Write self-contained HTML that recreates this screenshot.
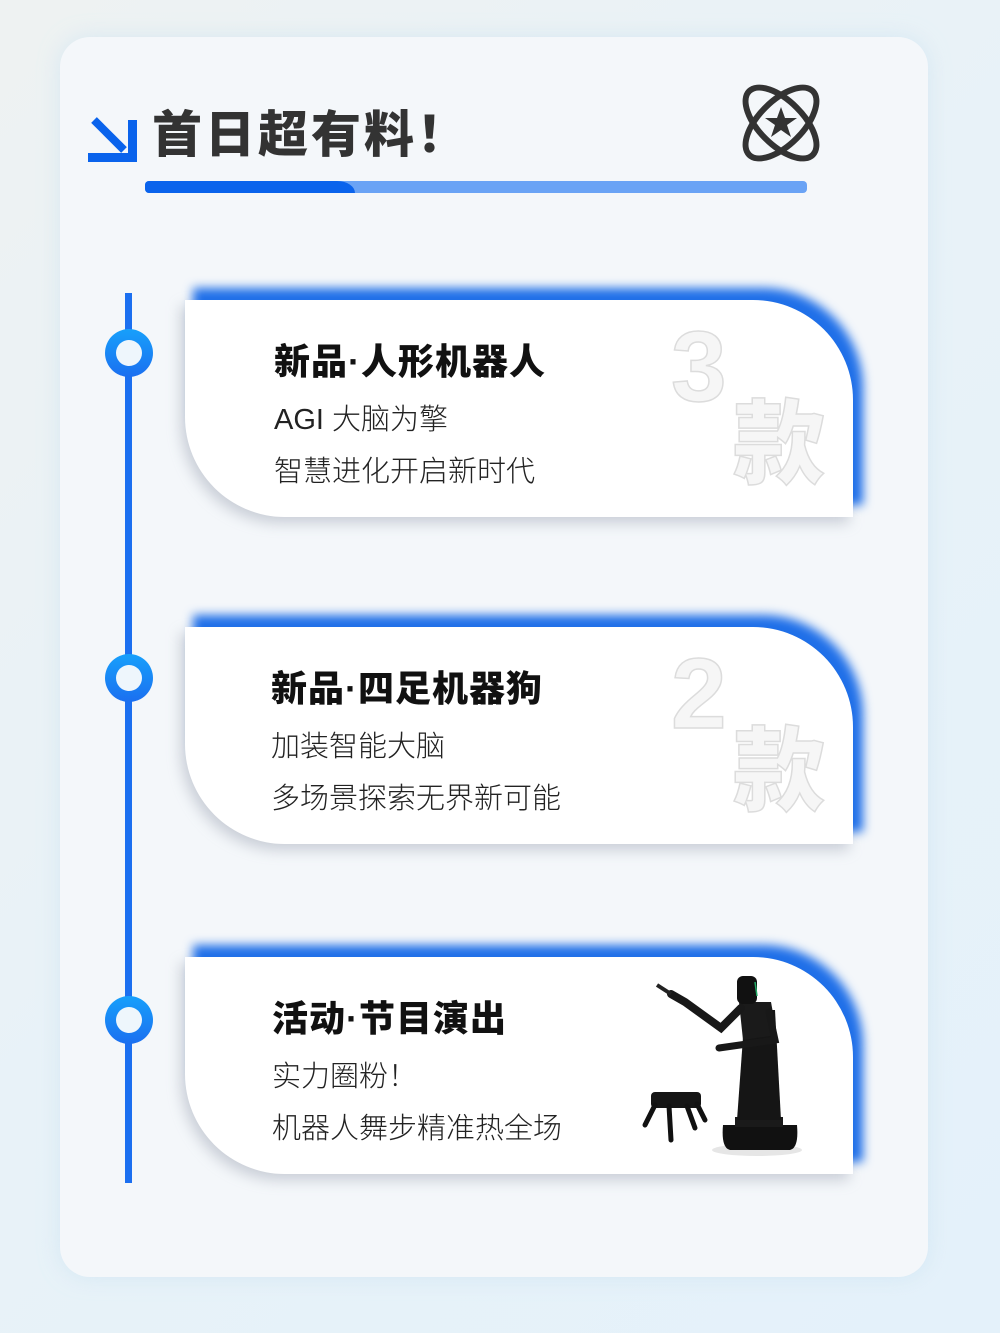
<!DOCTYPE html>
<html><head><meta charset="utf-8">
<style>
html,body{margin:0;padding:0}
body{width:1000px;height:1333px;background:linear-gradient(135deg,#eef2f2 0%,#e8f2f8 50%,#e4f1fa 100%);position:relative;overflow:hidden;font-family:"Liberation Sans","Noto Sans CJK SC",sans-serif}
.panel{position:absolute;left:60px;top:37px;width:868px;height:1240px;border-radius:30px;background:#f4f7fa;box-shadow:0 0 20px rgba(200,225,240,.6)}
.title{position:absolute;left:152px;top:100px;font-size:50px;font-weight:900;color:#333;letter-spacing:3px;line-height:70px}
.bar{position:absolute;left:145px;top:181px;width:662px;height:12px;border-radius:4px;background:#6aa3f5;overflow:hidden}
.bar i{position:absolute;left:0;top:0;width:210px;height:12px;background:#0a63ec;border-top-right-radius:18px 12px}
.line{position:absolute;left:125px;top:293px;width:7px;height:890px;background:#1b6ff0}
.dot{position:absolute;left:105px;width:48px;height:48px;border-radius:50%;background:linear-gradient(#17a0fb,#1b6ff0);}
.dot:after{content:"";position:absolute;left:11px;top:11px;width:26px;height:26px;border-radius:50%;background:#eef6fc}
.card{position:absolute;left:185px;width:668px;height:217px}
.glow{position:absolute;left:8px;top:-12px;width:670px;height:217px;background:#1f6fe8;border-radius:0 100px 0 100px;filter:blur(5px)}
.sh{position:absolute;left:-4px;top:6px;width:668px;height:217px;background:rgba(120,130,150,.35);border-radius:0 100px 0 100px;filter:blur(7px)}
.body{position:absolute;left:0;top:0;width:668px;height:217px;background:#fff;border-radius:0 100px 0 100px;overflow:hidden}
.h{position:absolute;font-size:36px;font-weight:900;color:#111;letter-spacing:1px;white-space:nowrap}
.p{position:absolute;font-size:29px;font-weight:300;color:#222;white-space:nowrap;line-height:40px}
.big{position:absolute;font-weight:900;color:#f6f6f6;-webkit-text-stroke:1.5px #dcdcdc;font-family:"Liberation Sans","Noto Sans CJK SC",sans-serif}
</style></head><body>
<div class="panel"></div>
<svg style="position:absolute;left:88px;top:116px" width="50" height="46" viewBox="0 0 50 46">
<path d="M6 4 L36 34" stroke="#0a63ec" stroke-width="8" fill="none"/>
<rect x="40" y="4" width="9" height="42" fill="#0a63ec"/>
<rect x="0" y="37" width="49" height="9" fill="#0a63ec"/>
</svg>
<div class="title">首日超有料！</div>
<svg style="position:absolute;left:736px;top:80px" width="90" height="86" viewBox="0 0 90 86">
<ellipse cx="45" cy="43" rx="45" ry="22" transform="rotate(45 45 43)" fill="none" stroke="#333" stroke-width="6"/>
<ellipse cx="45" cy="43" rx="45" ry="22" transform="rotate(-45 45 43)" fill="none" stroke="#333" stroke-width="6"/>
<polygon points="45,27 49,38 61,38 51,45 55,57 45,50 35,57 39,45 29,38 41,38" fill="#333"/>
</svg>
<div class="bar"><i></i></div>
<div class="line"></div>
<div class="dot" style="top:329px"></div>
<div class="dot" style="top:654px"></div>
<div class="dot" style="top:996px"></div>

<div class="card" style="top:300px">
<div class="sh"></div><div class="glow"></div>
<div class="body">
<div class="h" style="left:89px;top:33px">新品·人形机器人</div>
<div class="p" style="left:89px;top:100px">AGI 大脑为擎</div>
<div class="p" style="left:89px;top:152px">智慧进化开启新时代</div>
<div class="big" style="left:486px;top:10px;font-size:100px">3</div>
<div class="big" style="left:548px;top:70px;font-size:92px">款</div>
</div></div>

<div class="card" style="top:627px">
<div class="sh"></div><div class="glow"></div>
<div class="body">
<div class="h" style="left:86px;top:33px">新品·四足机器狗</div>
<div class="p" style="left:86px;top:100px">加装智能大脑</div>
<div class="p" style="left:86px;top:152px">多场景探索无界新可能</div>
<div class="big" style="left:486px;top:10px;font-size:100px">2</div>
<div class="big" style="left:548px;top:70px;font-size:92px">款</div>
</div></div>

<div class="card" style="top:957px">
<div class="sh"></div><div class="glow"></div>
<div class="body">
<div class="h" style="left:87px;top:33px">活动·节目演出</div>
<div class="p" style="left:87px;top:100px">实力圈粉！</div>
<div class="p" style="left:87px;top:152px">机器人舞步精准热全场</div>
<svg style="position:absolute;left:440px;top:10px" width="200" height="200" viewBox="620 967 200 200">
<ellipse cx="752" cy="1150" rx="45" ry="6" fill="#e6e6e6"/>
<path d="M718 1125 Q716 1148 725 1150 L785 1150 Q794 1148 792 1125 Z" fill="#111"/>
<rect x="730" y="1117" width="48" height="10" fill="#1a1a1a"/>
<path d="M740 1010 L770 1010 L776 1120 L732 1120 Z" fill="#151515"/>
<path d="M734 1002 L766 1002 L772 1035 L738 1040 Z" fill="#1a1a1a"/>
<rect x="732" y="976" width="20" height="28" rx="6" fill="#111"/>
<path d="M750 982 L752 996" stroke="#2a6" stroke-width="1.5"/>
<path d="M736 1008 L716 1028 L680 1002 L666 994" stroke="#181818" stroke-width="8" fill="none" stroke-linecap="round"/>
<path d="M666 994 L652 985" stroke="#222" stroke-width="4"/>
<path d="M764 1012 L770 1040 L735 1045 L714 1048" stroke="#181818" stroke-width="7" fill="none" stroke-linecap="round"/>
<rect x="646" y="1092" width="50" height="16" rx="4" fill="#151515"/>
<path d="M650 1105 L640 1125 M664 1106 L666 1140 M682 1106 L690 1128 M692 1104 L700 1120" stroke="#111" stroke-width="5" fill="none" stroke-linecap="round"/>
</svg>
</div></div>
</body></html>
